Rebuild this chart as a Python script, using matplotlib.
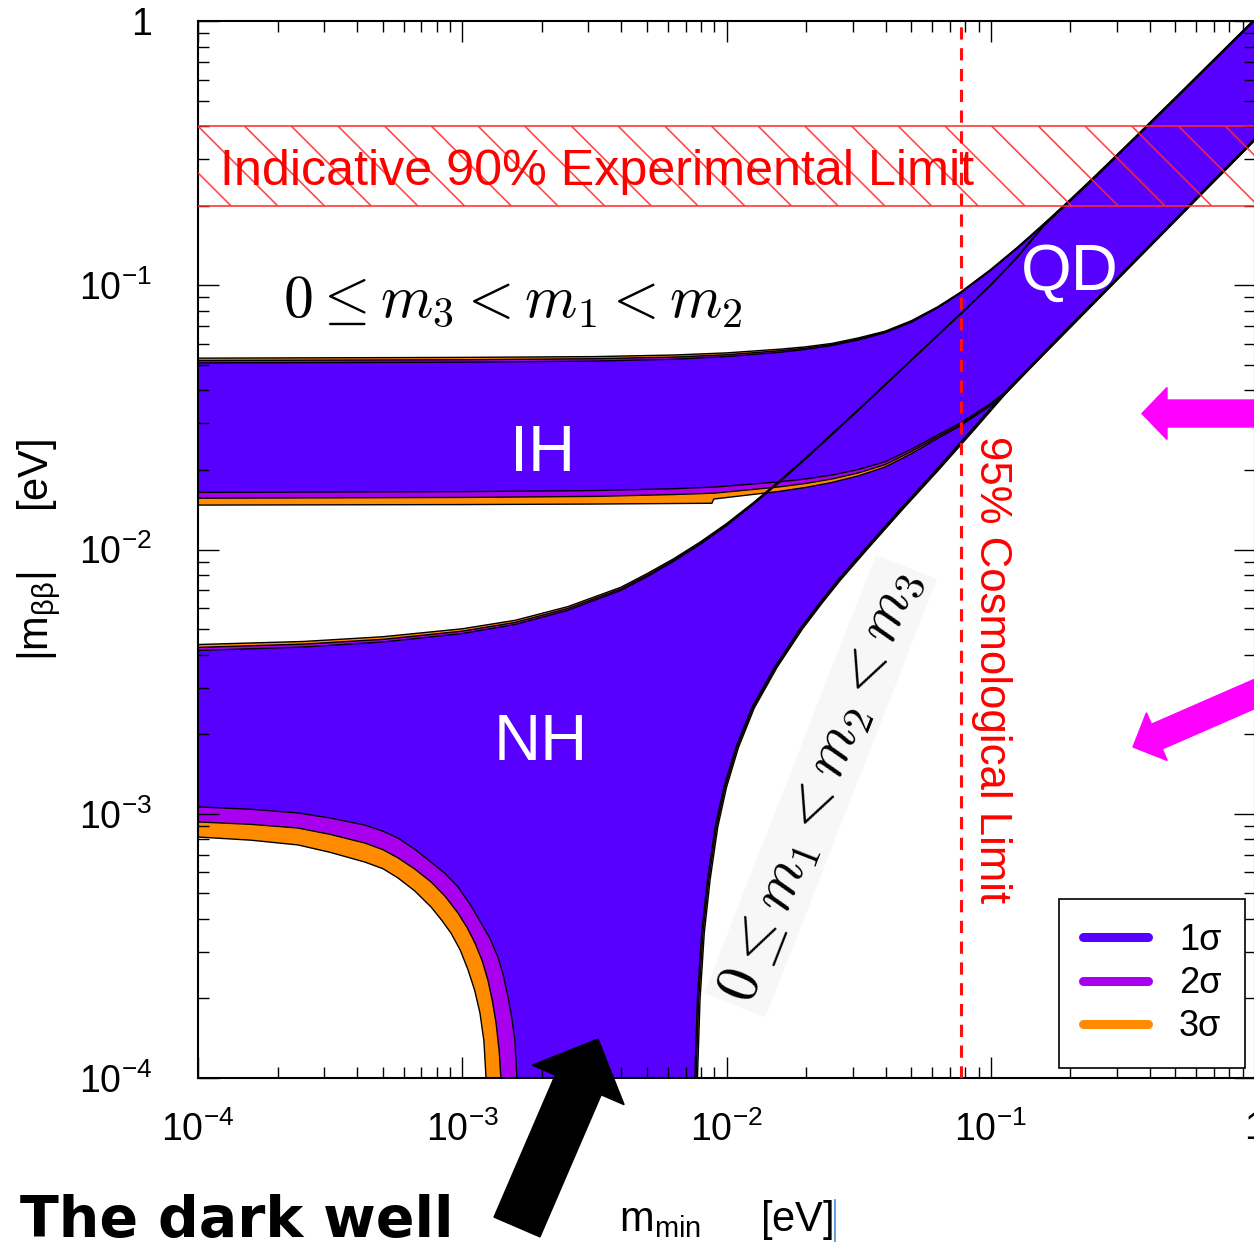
import numpy as np
import matplotlib
matplotlib.use("Agg")
import matplotlib.pyplot as plt
from matplotlib.patches import FancyArrow
from matplotlib.lines import Line2D
from matplotlib.ticker import NullFormatter

plt.rcParams['font.family'] = ['Liberation Sans', 'DejaVu Sans']
plt.rcParams['mathtext.fontset'] = 'custom'
plt.rcParams['mathtext.rm'] = 'Liberation Sans'
plt.rcParams['mathtext.it'] = 'Liberation Sans:italic'
plt.rcParams['mathtext.bf'] = 'Liberation Sans:bold'
plt.rcParams['mathtext.sf'] = 'Liberation Sans'

# ---------------- data (log10 of eV) ----------------
# Inverted hierarchy band: upper edge and lower edge
ih_up_lx = [-4.05, -3.0, -2.5, -2.2, -2.0, -1.8, -1.7, -1.6, -1.5, -1.4, -1.3, -1.2,
            -1.117, -1.0, -0.9, -0.8, -0.7, -0.6, -0.5, -0.3, 0.1]
ih_up_ly_1s = [-1.294, -1.291, -1.287, -1.280, -1.270, -1.254, -1.243, -1.228, -1.207,
               -1.180, -1.140, -1.085, -1.032, -0.944, -0.861, -0.772, -0.680, -0.585,
               -0.488, -0.292, 0.104]
ih_up_ly_2s = [-1.285, -1.282, -1.278, -1.272, -1.263, -1.248, -1.238, -1.224, -1.203,
               -1.177, -1.137, -1.083, -1.030, -0.942, -0.859, -0.770, -0.678, -0.583,
               -0.486, -0.290, 0.106]
ih_up_ly_3s = [-1.276, -1.273, -1.270, -1.264, -1.256, -1.242, -1.233, -1.220, -1.199,
               -1.174, -1.134, -1.081, -1.028, -0.940, -0.857, -0.768, -0.676, -0.581,
               -0.484, -0.288, 0.108]

ih_lo_lx = [-4.05, -3.0, -2.5, -2.2, -2.055, -2.048, -1.8, -1.7, -1.6, -1.5, -1.4, -1.3,
            -1.2, -1.117, -1.0, -0.939, -0.8, -0.5, -0.3, 0.1]
ih_lo_ly_1s = [-1.784, -1.781, -1.777, -1.770, -1.764, -1.764, -1.744, -1.733, -1.718,
               -1.697, -1.668, -1.620, -1.566, -1.522, -1.447, -1.400, -1.255, -0.951,
               -0.748, -0.343]
ih_lo_ly_2s = [-1.806, -1.803, -1.799, -1.792, -1.787, -1.787, -1.763, -1.750, -1.733,
               -1.710, -1.679, -1.629, -1.573, -1.528, -1.451, -1.403, -1.258, -0.954,
               -0.751, -0.346]
ih_lo_ly_3s = [-1.832, -1.830, -1.828, -1.826, -1.825, -1.809, -1.780, -1.765, -1.746,
               -1.721, -1.688, -1.637, -1.579, -1.533, -1.455, -1.406, -1.261, -0.957,
               -0.754, -0.349]

# Normal hierarchy band: upper edge, right (cancellation) edge, inner "well" edge
nh_up_lx = [-4.05, -3.6, -3.3, -3.0, -2.8, -2.6, -2.4, -2.3, -2.2, -2.1, -2.0, -1.9,
            -1.8, -1.7, -1.6, -1.5, -1.4, -1.3, -1.2, -1.1, -1.0, -0.9, -0.8, -0.6,
            -0.4, 0.1]
nh_up_ly_1s = [-2.384, -2.369, -2.350, -2.318, -2.284, -2.230, -2.155, -2.103, -2.045,
               -1.981, -1.910, -1.830, -1.746, -1.657, -1.565, -1.472, -1.378, -1.284,
               -1.190, -1.096, -1.000, -0.895, -0.776, -0.588, -0.392, 0.102]
nh_up_ly_2s = [-2.372, -2.358, -2.340, -2.309, -2.276, -2.223, -2.149, -2.097, -2.040,
               -1.976, -1.906, -1.827, -1.743, -1.655, -1.563, -1.471, -1.377, -1.283,
               -1.189, -1.095, -0.999, -0.894, -0.775, -0.587, -0.391, 0.103]
nh_up_ly_3s = [-2.361, -2.348, -2.330, -2.300, -2.268, -2.216, -2.143, -2.091, -2.035,
               -1.972, -1.902, -1.824, -1.740, -1.653, -1.561, -1.470, -1.376, -1.282,
               -1.188, -1.094, -0.998, -0.893, -0.774, -0.586, -0.390, 0.104]

nh_rt_ly = [-0.345, -0.450, -0.952, -1.396, -1.55, -1.70, -1.85, -2.00, -2.115, -2.20,
            -2.30, -2.445, -2.60, -2.75, -2.90, -3.05, -3.25, -3.45, -3.70, -4.0, -4.5]
nh_rt_lx_1s = [0.100, -0.005, -0.500, -0.939, -1.075, -1.208, -1.345, -1.478, -1.578,
               -1.646, -1.722, -1.818, -1.905, -1.965, -2.010, -2.043, -2.072, -2.094,
               -2.110, -2.120, -2.126]
nh_rt_lx_2s = [0.103, -0.002, -0.497, -0.935, -1.070, -1.203, -1.340, -1.473, -1.573,
               -1.641, -1.717, -1.813, -1.900, -1.960, -2.005, -2.038, -2.067, -2.089,
               -2.105, -2.115, -2.121]
nh_rt_lx_3s = [0.106, 0.001, -0.494, -0.931, -1.065, -1.198, -1.335, -1.468, -1.568,
               -1.636, -1.712, -1.808, -1.895, -1.955, -2.000, -2.033, -2.062, -2.084,
               -2.100, -2.110, -2.116]

nh_well_lx_1s = [-2.792, -2.793, -2.797, -2.801, -2.813, -2.827, -2.845, -2.865, -2.895,
                 -2.929, -2.970, -3.016, -3.065, -3.118, -3.180, -3.243, -3.300, -3.368,
                 -3.500, -3.622, -3.800, -4.0, -4.1]
nh_well_ly_1s = [-4.5, -4.0, -3.93, -3.856, -3.77, -3.693, -3.610, -3.542, -3.472,
                 -3.413, -3.343, -3.277, -3.226, -3.183, -3.134, -3.092, -3.066, -3.043,
                 -3.016, -2.997, -2.983, -2.974, -2.973]
nh_well_lx_2s = [-2.853, -2.854, -2.860, -2.872, -2.886, -2.903, -2.925, -2.952, -2.982,
                 -3.016, -3.065, -3.118, -3.180, -3.243, -3.300, -3.368, -3.500, -3.622,
                 -3.800, -4.0, -4.1]
nh_well_ly_2s = [-4.5, -4.0, -3.900, -3.792, -3.708, -3.629, -3.555, -3.489, -3.430,
                 -3.376, -3.312, -3.258, -3.209, -3.167, -3.136, -3.111, -3.078, -3.054,
                 -3.040, -3.031, -3.030]
nh_well_lx_3s = [-2.909, -2.910, -2.918, -2.933, -2.953, -2.978, -3.008, -3.043, -3.080,
                 -3.118, -3.180, -3.243, -3.300, -3.368, -3.500, -3.622, -3.800, -4.0, -4.1]
nh_well_ly_3s = [-4.5, -4.0, -3.860, -3.754, -3.668, -3.591, -3.515, -3.451, -3.400,
                 -3.353, -3.292, -3.243, -3.208, -3.183, -3.146, -3.118, -3.100, -3.088,
                 -3.087]

exp_limit = [0.2, 0.4]          # eV, indicative 90% experimental limit band
cosmo_limit = 0.077             # eV, 95% cosmological limit

sigma_labels = ['1σ', '2σ', '3σ']
sigma_colors = ['#5800ff', '#a800ee', '#ff8c00']

xtick_vals = [1e-4, 1e-3, 1e-2, 1e-1, 1]
xtick_labels = [r'$10^{-4}$', r'$10^{-3}$', r'$10^{-2}$', r'$10^{-1}$', '1']
ytick_vals = [1e-4, 1e-3, 1e-2, 1e-1, 1]
ytick_labels = [r'$10^{-4}$', r'$10^{-3}$', r'$10^{-2}$', r'$10^{-1}$', '1']

# ---------------- figure ----------------
W, H = 1254, 1242
fig = plt.figure(figsize=(W / 100, H / 100), dpi=100)
ax = fig.add_axes([198 / W, 164 / H, 1057 / W, 1057 / H])
ax.set_xscale('log')
ax.set_yscale('log')
ax.set_xlim(1e-4, 1)
ax.set_ylim(1e-4, 1)


def pw(a):
    return 10 ** np.asarray(a, dtype=float)


def ih_poly(up, lo):
    x = list(ih_up_lx) + list(ih_lo_lx)[::-1]
    y = list(up) + list(lo)[::-1]
    return pw(x), pw(y)


def nh_poly(up, rtx, wx, wy):
    x = list(nh_up_lx) + list(rtx) + list(wx)
    y = list(up) + list(nh_rt_ly) + list(wy)
    return pw(x), pw(y)


nh_polys = [nh_poly(nh_up_ly_3s, nh_rt_lx_3s, nh_well_lx_3s, nh_well_ly_3s),
            nh_poly(nh_up_ly_2s, nh_rt_lx_2s, nh_well_lx_2s, nh_well_ly_2s),
            nh_poly(nh_up_ly_1s, nh_rt_lx_1s, nh_well_lx_1s, nh_well_ly_1s)]
ih_polys = [ih_poly(ih_up_ly_3s, ih_lo_ly_3s),
            ih_poly(ih_up_ly_2s, ih_lo_ly_2s),
            ih_poly(ih_up_ly_1s, ih_lo_ly_1s)]
fill_cols = [sigma_colors[2], sigma_colors[1], sigma_colors[0]]

for (x, y), c in zip(nh_polys, fill_cols):
    ax.fill(x, y, facecolor=c, edgecolor='none', zorder=1)
for (x, y), c in zip(ih_polys, fill_cols):
    ax.fill(x, y, facecolor=c, edgecolor='none', zorder=1)
for x, y in nh_polys + ih_polys:
    ax.plot(np.append(x, x[0]), np.append(y, y[0]), color='black', lw=1.0,
            zorder=2, solid_joinstyle='round')

# experimental limit hatched band
for yv in exp_limit:
    ax.axhline(yv, color='#ff2a2a', lw=1.4, alpha=0.8, zorder=3)
hatch_step = 0.1767  # decades between hatch lines
dec = np.log10(exp_limit[1] / exp_limit[0])
for k in range(-3, 26):
    lx0 = -4 + k * hatch_step
    ax.plot(pw([lx0, lx0 + dec]), [exp_limit[1], exp_limit[0]],
            color='#ff2a2a', lw=1.2, alpha=0.85, zorder=3, solid_capstyle='butt')

# cosmological limit
ax.axvline(cosmo_limit, color='#ff1010', lw=2.2, ls=(0, (4, 2.8)), zorder=3)

# ticks
ax.set_xticks(xtick_vals)
ax.set_xticklabels(xtick_labels)
ax.set_yticks(ytick_vals)
ax.set_yticklabels(ytick_labels)
ax.xaxis.set_minor_formatter(NullFormatter())
ax.yaxis.set_minor_formatter(NullFormatter())
ax.tick_params(which='both', direction='in', top=True, right=True, width=1.0)
ax.tick_params(which='major', length=15, labelsize=27)
ax.tick_params(which='minor', length=8)
ax.tick_params(axis='y', which='major', pad=33)
ax.tick_params(axis='x', which='major', pad=24)
for s in ax.spines.values():
    s.set_linewidth(1.5)

ax.set_xlabel(r'$\mathrm{m}_{\mathrm{min}}$     [eV]', fontsize=30)
ax.xaxis.set_label_coords(0.5, -0.114)
ax.set_ylabel(r'$|\mathrm{m}_{\mathrm{\beta\beta}}|$     [eV]', fontsize=30)
ax.yaxis.set_label_coords(-0.128, 0.5)

# annotations
ax.text(0.0208, 0.8448, 'Indicative 90% Experimental Limit', transform=ax.transAxes,
        color='#ff0000', fontsize=36.2, ha='left', va='baseline', zorder=4)
ax.text(0.751, 0.386, '95% Cosmological Limit', transform=ax.transAxes,
        color='#ff0000', fontsize=31.5, rotation=-90, ha='center', va='center', zorder=4)
ax.text(0.3264, 0.5743, 'IH', transform=ax.transAxes, color='white', fontsize=47,
        ha='center', va='baseline', zorder=4)
ax.text(0.3245, 0.3008, 'NH', transform=ax.transAxes, color='white', fontsize=47,
        ha='center', va='baseline', zorder=4)
ax.text(0.825, 0.7455, 'QD', transform=ax.transAxes, color='white', fontsize=47,
        ha='center', va='baseline', zorder=4)
ax.text(0.0804, 0.72, r'$0 \leq m_3 < m_1 < m_2$', transform=ax.transAxes,
        color='black', fontsize=43, ha='left', va='baseline', math_fontfamily='cm', zorder=4)
ax.text(0.589, 0.276, r'$0 \leq m_1 < m_2 < m_3$', transform=ax.transAxes,
        color='black', fontsize=43, ha='center', va='center', rotation=68.6,
        rotation_mode='anchor', math_fontfamily='cm', zorder=4,
        bbox=dict(facecolor='#f7f7f7', edgecolor='none', pad=4))

# legend
handles = [Line2D([], [], color=c, lw=6.5, solid_capstyle='round') for c in sigma_colors]
leg = ax.legend(handles, sigma_labels, loc='lower right', bbox_to_anchor=(0.9905, 0.0095),
                borderaxespad=0, fontsize=26, frameon=True, fancybox=False,
                edgecolor='black', framealpha=1, handlelength=1.81, handletextpad=0.85,
                labelspacing=0.23, borderpad=0.65)
leg.get_frame().set_linewidth(1.2)
leg.set_zorder(5)

# outside annotations (figure inches)
tr = fig.dpi_scale_trans
fig.text(20 / W, 5 / H, 'The dark well', fontsize=41, fontweight='bold',
         family='DejaVu Sans', ha='left', va='baseline')
fig.add_artist(FancyArrow(5.17, 0.15, 0.81, 1.88, width=0.50, head_width=1.00,
                          head_length=0.50, length_includes_head=True,
                          color='black', transform=tr))
fig.add_artist(FancyArrow(12.9, 8.285, -1.48, 0.0, width=0.27, head_width=0.52,
                          head_length=0.25, length_includes_head=True,
                          color='#ff00ff', transform=tr))
fig.add_artist(FancyArrow(12.98, 5.67, -1.65, -0.72, width=0.27, head_width=0.52,
                          head_length=0.26, length_includes_head=True,
                          color='#ff00ff', transform=tr))
fig.add_artist(Line2D([8.35, 8.35], [0.0, 0.42], transform=tr, color='#4a8fdc', lw=1.2))

fig.savefig('out.png', dpi=100)
